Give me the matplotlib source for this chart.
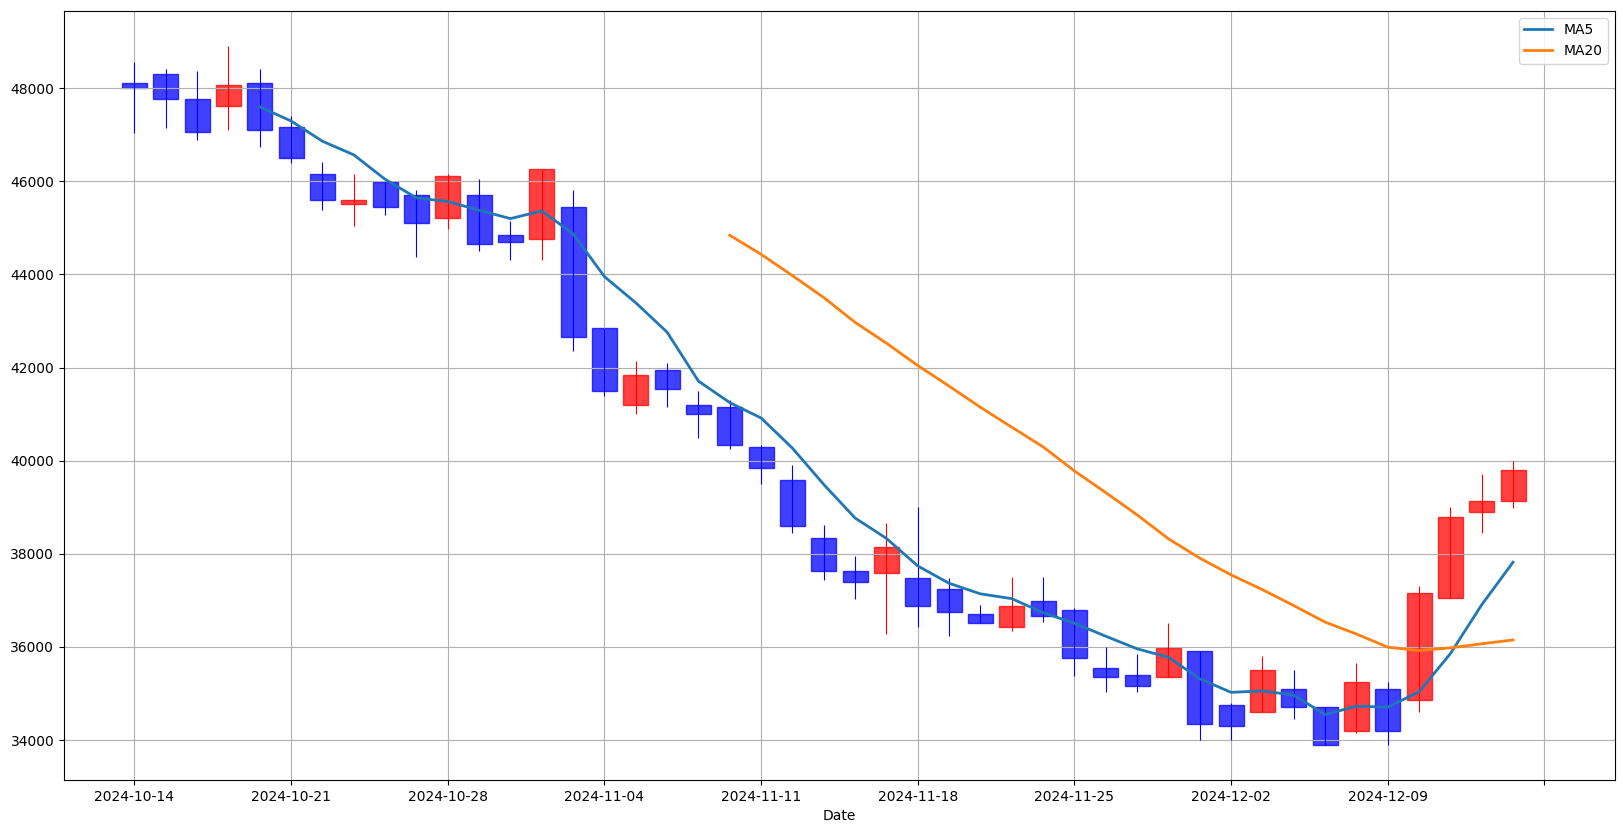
import matplotlib
matplotlib.use("Agg")
import matplotlib.pyplot as plt
import numpy as np
import pandas as pd

dates = pd.bdate_range("2024-10-14", periods=45)

opens = [48107, 48300, 47763, 47613, 48107, 47161, 46151, 45506, 45986, 45699,
         45205, 45700, 44843, 44757, 45443, 42850, 41200, 41950, 41200, 41157,
         40300, 39592, 38348, 37640, 37598, 37490, 37254, 36697, 36439, 36997,
         36802, 35540, 35390, 35348, 35904, 34749, 34599, 35091, 34706, 34193,
         35093, 34864, 37043, 38907, 39143]
closes = [48014, 47763, 47054, 48065, 47097, 46495, 45592, 45592, 45441, 45097,
          46108, 44650, 44700, 46257, 42657, 41500, 41843, 41543, 41007, 40343,
          39850, 38606, 37640, 37405, 38155, 36890, 36747, 36504, 36890, 36654,
          35754, 35348, 35155, 35982, 34342, 34300, 35497, 34706, 33893, 35241,
          34200, 37150, 38800, 39143, 39807]
highs = [48566, 48416, 48373, 48910, 48416, 47405, 46416, 46158, 45990, 45814,
         46151, 46043, 45150, 46260, 45814, 42855, 42150, 42107, 41507, 41307,
         40343, 39900, 38613, 37948, 38656, 38999, 37490, 36897, 37498, 37498,
         36845, 35996, 35847, 36510, 35910, 34792, 35804, 35505, 34710, 35654,
         35243, 37307, 39000, 39707, 40000]
lows = [47047, 47154, 46896, 47097, 46746, 46402, 45391, 45047, 45283, 44380,
        44982, 44493, 44300, 44300, 42350, 41386, 40993, 41150, 40486, 40250,
        39500, 38448, 37440, 37026, 36282, 36425, 36239, 36504, 36346, 36540,
        35383, 35041, 35041, 35348, 33993, 33993, 34599, 34442, 33893, 34150,
        33893, 34593, 37043, 38450, 38986]

df = pd.DataFrame({"Open": opens, "High": highs, "Low": lows, "Close": closes}, index=dates)
df["MA5"] = df["Close"].rolling(5).mean()
df["MA20"] = df["Close"].rolling(20).mean()

x = np.arange(len(df))
up = df["Close"] >= df["Open"]
colors = np.where(up, "red", "blue")

fig, ax = plt.subplots(figsize=(16.23, 8.33), dpi=100)
body_bottom = np.minimum(df["Open"], df["Close"])
body_height = np.abs(df["Close"] - df["Open"])
ax.bar(x, body_height, bottom=body_bottom, width=0.8, color=colors,
       edgecolor=colors, linewidth=1, alpha=0.75)
ax.vlines(x, df["Low"], df["High"], colors=colors, linewidth=0.8)

ax.plot(x, df["MA5"], label="MA5", linewidth=2)
ax.plot(x, df["MA20"], label="MA20", linewidth=2)

ticks = list(range(0, len(df) + 1, 5))
labels = [df.index[i].strftime("%Y-%m-%d") if i < len(df) else "" for i in ticks]
ax.set_xticks(ticks)
ax.set_xticklabels(labels)
ax.set_xlim(-2.25, 47.25)
lo, hi = df["Low"].min(), df["High"].max()
pad = 0.05 * (hi - lo)
ax.set_ylim(lo - pad, hi + pad)
ax.set_xlabel("Date")
ax.grid(True)
ax.legend(loc="upper right")

fig.subplots_adjust(left=0.0394, right=0.995, bottom=0.0636, top=0.987)
fig.savefig("out.png", dpi=100)
